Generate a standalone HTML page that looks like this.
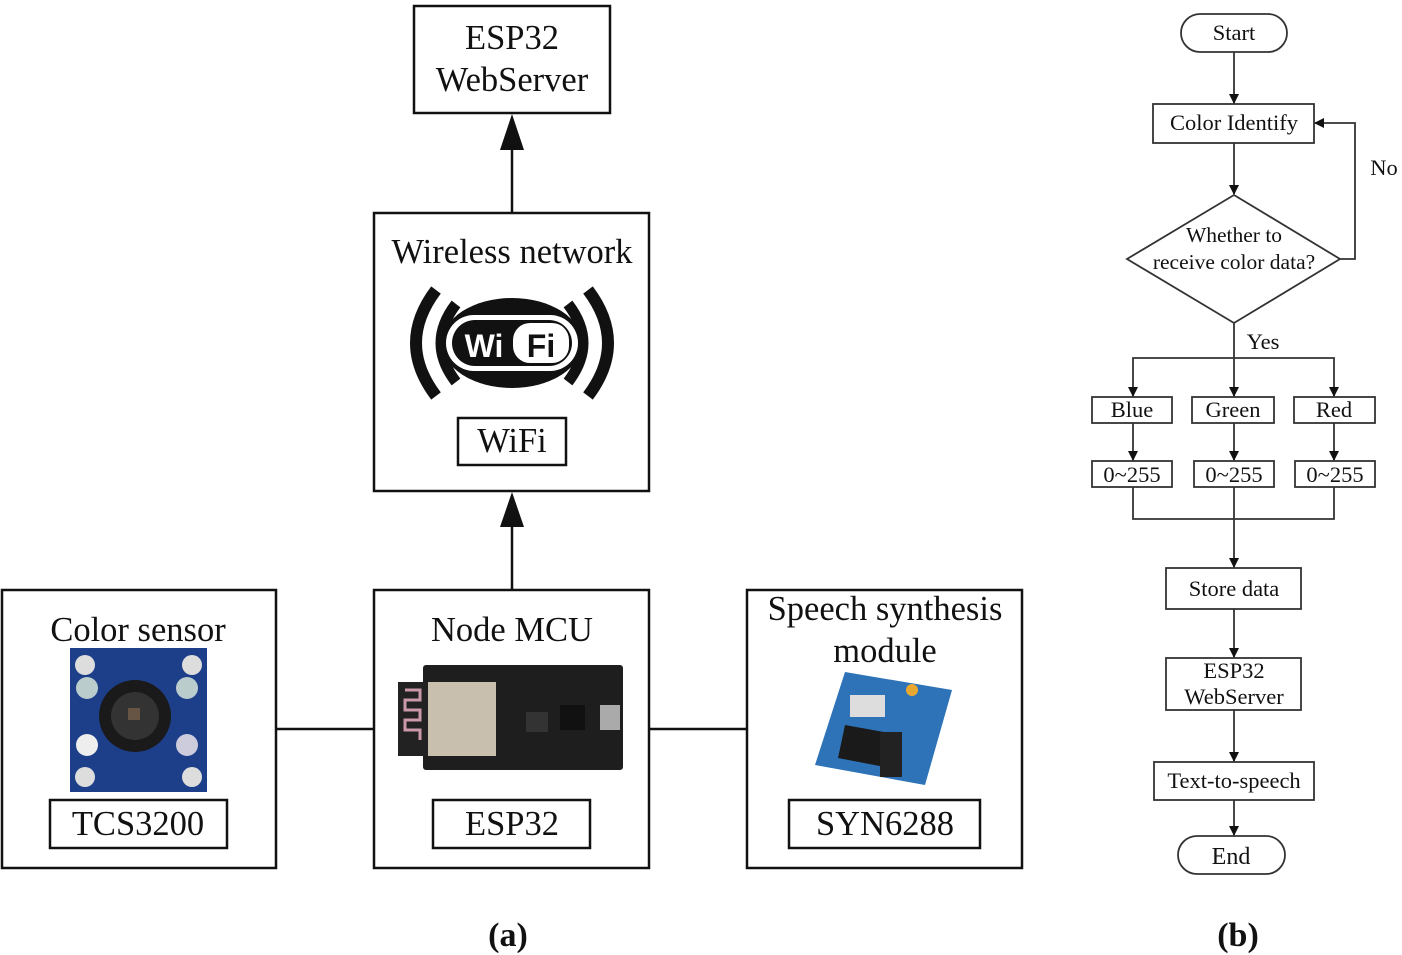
<!DOCTYPE html>
<html><head><meta charset="utf-8"><style>
html,body{margin:0;padding:0;background:#fff;}
svg{display:block;}
.s{font-family:"Liberation Serif",serif;fill:#111;}
</style></head><body>
<svg width="1402" height="955" viewBox="0 0 1402 955" xmlns="http://www.w3.org/2000/svg">
<defs>
<marker id="a" markerWidth="10" markerHeight="10" refX="9" refY="5" orient="auto" markerUnits="userSpaceOnUse"><path d="M0,0 L10,5 L0,10 z" fill="#111"/></marker>
</defs>
<g fill="none" stroke="#111" stroke-width="2.5">
<rect x="414" y="6" width="196" height="107"/>
<rect x="374" y="213" width="275" height="278"/>
<rect x="458" y="418" width="108" height="47"/>
<rect x="2" y="590" width="274" height="278"/>
<rect x="374" y="590" width="275" height="278"/>
<rect x="747" y="590" width="275" height="278"/>
<rect x="50" y="800" width="177" height="48"/>
<rect x="433" y="800" width="157" height="48"/>
<rect x="789" y="800" width="191" height="48"/>
<line x1="512" y1="213" x2="512" y2="140"/>
<line x1="512" y1="590" x2="512" y2="520"/>
<line x1="276" y1="729" x2="374" y2="729"/>
<line x1="649" y1="729" x2="747" y2="729"/>
</g>
<path d="M500,150 L512,114 L524,150 z" fill="#111"/>
<path d="M500,527 L512,492 L524,527 z" fill="#111"/>
<g class="s" font-size="34.5" text-anchor="middle">
<text x="512" y="49">ESP32</text>
<text x="512" y="91">WebServer</text>
<text x="512" y="263">Wireless network</text>
<text x="512" y="452">WiFi</text>
<text x="138" y="641">Color sensor</text>
<text x="138" y="835">TCS3200</text>
<text x="512" y="641">Node MCU</text>
<text x="512" y="835">ESP32</text>
<text x="885" y="620">Speech synthesis</text>
<text x="885" y="662">module</text>
<text x="885" y="835">SYN6288</text>
</g>
<!-- wifi logo -->
<g>
<path d="M436,290 Q396,343 436,396" fill="none" stroke="#111" stroke-width="12"/>
<path d="M456,304 Q426,343 456,382" fill="none" stroke="#111" stroke-width="11"/>
<path d="M588,290 Q628,343 588,396" fill="none" stroke="#111" stroke-width="12"/>
<path d="M568,304 Q598,343 568,382" fill="none" stroke="#111" stroke-width="11"/>
<ellipse cx="512" cy="343" rx="70" ry="45" fill="#111"/>
<rect x="446" y="315" width="132" height="56" rx="28" fill="#fff"/>
<rect x="452" y="320" width="120" height="46" rx="23" fill="#111"/>
<rect x="513" y="323" width="56" height="40" rx="17" fill="#fff"/>
<text x="484" y="357" font-family="Liberation Sans,sans-serif" font-weight="bold" font-size="32" fill="#fff" text-anchor="middle">Wi</text>
<text x="541" y="357" font-family="Liberation Sans,sans-serif" font-weight="bold" font-size="32" fill="#111" text-anchor="middle">Fi</text>
</g>
<!-- color sensor -->
<g>
<rect x="70" y="648" width="137" height="144" fill="#1d3f8a"/>
<circle cx="85" cy="665" r="10" fill="#ddd"/><circle cx="192" cy="665" r="10" fill="#ddd"/>
<circle cx="85" cy="777" r="10" fill="#ddd"/><circle cx="192" cy="777" r="10" fill="#ddd"/>
<circle cx="87" cy="688" r="11" fill="#bcc"/><circle cx="187" cy="688" r="11" fill="#bcc"/>
<circle cx="87" cy="745" r="11" fill="#eee"/><circle cx="187" cy="745" r="11" fill="#ccd"/>
<circle cx="135" cy="716" r="36" fill="#1a1a1a"/><circle cx="135" cy="716" r="24" fill="#333"/>
<rect x="128" y="708" width="12" height="12" fill="#654"/>
</g>
<!-- esp32 board -->
<g>
<rect x="423" y="665" width="200" height="105" rx="3" fill="#1e1e1e"/>
<rect x="398" y="682" width="30" height="74" fill="#222"/>
<path d="M405,690 h15 v10 h-15 v10 h15 v10 h-15 v10 h15 v10" fill="none" stroke="#c9a" stroke-width="3"/>
<rect x="428" y="682" width="68" height="74" fill="#c8bfae"/>
<rect x="560" y="705" width="25" height="25" fill="#111"/>
<rect x="600" y="705" width="20" height="25" fill="#aaa"/>
<rect x="526" y="712" width="22" height="20" fill="#333"/>
</g>
<!-- speech module -->
<g>
<path d="M845,672 L952,690 L925,785 L815,765 z" fill="#2e73b8"/>
<rect x="850" y="695" width="35" height="22" fill="#ddd"/>
<path d="M845,725 L900,735 L890,768 L838,758 z" fill="#1a1a1a"/>
<rect x="880" y="732" width="22" height="45" fill="#222"/>
<circle cx="912" cy="690" r="6" fill="#e8a830"/>
</g>
<g class="s" font-weight="bold" font-size="34" text-anchor="middle">
<text x="508" y="946">(a)</text>
<text x="1238" y="946">(b)</text>
</g>
<!-- flowchart -->
<g fill="none" stroke="#333" stroke-width="1.8">
<rect x="1181" y="14" width="106" height="38" rx="19"/>
<rect x="1153" y="104" width="161" height="39"/>
<path d="M1234,195 L1340,259 L1234,323 L1127,259 z"/>
<rect x="1092" y="397" width="80" height="26"/>
<rect x="1192" y="397" width="82" height="26"/>
<rect x="1294" y="397" width="81" height="26"/>
<rect x="1092" y="461" width="80" height="26"/>
<rect x="1194" y="461" width="80" height="26"/>
<rect x="1295" y="461" width="80" height="26"/>
<rect x="1166" y="568" width="135" height="41"/>
<rect x="1166" y="658" width="135" height="52"/>
<rect x="1154" y="762" width="160" height="38"/>
<rect x="1178" y="836" width="107" height="38" rx="19"/>
<g marker-end="url(#a)">
<line x1="1234" y1="52" x2="1234" y2="103"/>
<line x1="1234" y1="143" x2="1234" y2="194"/>
<polyline points="1340,259 1355,259 1355,123 1315,123"/>
<polyline points="1234,323 1234,358 1133,358 1133,396"/>
<line x1="1234" y1="358" x2="1234" y2="396"/>
<polyline points="1234,358 1334,358 1334,396"/>
<line x1="1133" y1="423" x2="1133" y2="460"/>
<line x1="1234" y1="423" x2="1234" y2="460"/>
<line x1="1334" y1="423" x2="1334" y2="460"/>
<line x1="1234" y1="519" x2="1234" y2="567"/>
<line x1="1234" y1="609" x2="1234" y2="657"/>
<line x1="1234" y1="710" x2="1234" y2="761"/>
<line x1="1234" y1="800" x2="1234" y2="835"/>
</g>
<polyline points="1133,487 1133,519 1334,519 1334,487"/>
<line x1="1234" y1="487" x2="1234" y2="519"/>
</g>
<g class="s" font-size="22.5" text-anchor="middle" fill="#222">
<text x="1234" y="40">Start</text>
<text x="1234" y="130">Color Identify</text>
<text x="1234" y="242" font-size="21.5">Whether to</text>
<text x="1234" y="269" font-size="21.5">receive color data?</text>
<text x="1384" y="175">No</text>
<text x="1263" y="349">Yes</text>
<text x="1132" y="417">Blue</text>
<text x="1233" y="417">Green</text>
<text x="1334" y="417">Red</text>
<text x="1132" y="482">0~255</text>
<text x="1234" y="482">0~255</text>
<text x="1335" y="482">0~255</text>
<text x="1234" y="596">Store data</text>
<text x="1234" y="678">ESP32</text>
<text x="1234" y="704">WebServer</text>
<text x="1234" y="788">Text-to-speech</text>
<text x="1231" y="864" font-size="24">End</text>
</g>
</svg>
</body></html>
